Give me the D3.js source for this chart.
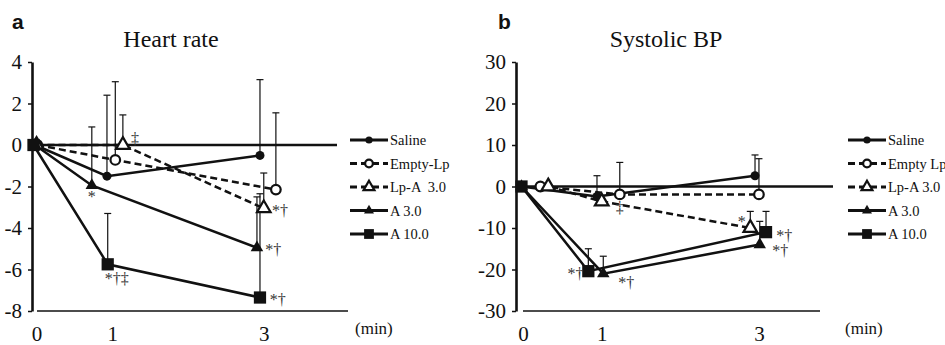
<!DOCTYPE html>
<html>
<head>
<meta charset="utf-8">
<script src="https://cdn.jsdelivr.net/npm/d3@7"></script>
<style>
  body { margin: 0; background: #fff; }
  svg text { font-family: "Liberation Serif", "Times New Roman", serif; fill: #111; white-space: pre; }
</style>
</head>
<body>
<svg id="svg0" width="945" height="345"></svg>
<script>
// legend names, one list per panel
var namesA = ["Saline", "Empty-Lp", "Lp-A  3.0", "A 3.0", "A 10.0"];
var namesB = ["Saline", "Empty Lp", "Lp-A 3.0", "A 3.0", "A 10.0"];

var xTicks = [0, 1, 3];
var hrTicks = [4, 2, 0, -2, -4, -6, -8];
var bpTicks = [30, 20, 10, 0, -10, -20, -30];

// [minutes, mean change, top of SD bar]
var hrSaline = [[0, 0, null], [0.95, -1.5, 2.4], [2.97, -0.5, 3.15]];
var hrEmpty  = [[0.03, 0, null], [1.06, -0.72, 3.05], [3.18, -2.15, 1.55]];
var hrLpA    = [[0.02, 0, null], [1.16, 0, 1.45], [3.02, -3.05, -1.35]];
var hrA3     = [[0, 0, null], [0.75, -1.95, 0.87], [2.93, -4.95, -2.5]];
var hrA10    = [[-0.02, 0, null], [0.96, -5.75, -3.3], [2.97, -7.35, -2.35]];

var bpSaline = [[0, 0, null], [0.96, -2.4, 2.6], [2.97, 2.6, 7.6]];
var bpEmpty  = [[0.24, 0, null], [1.25, -1.9, 5.8], [3.02, -1.9, 6.7]];
var bpLpA    = [[0.34, 0, null], [1.02, -3.6, null], [2.91, -10, -6]];
var bpA3     = [[0, 0, null], [1.04, -21, -16.8], [3.03, -14, -8.4]];
var bpA10    = [[0, 0, null], [0.85, -20.4, -15], [3.11, -11, -6]];

// significance marks: [minutes, value, text, anchor]
var hrMarks = [
  [0.75, -2.5, "*", "middle"],
  [1.32, 0.3, "‡", "middle"],
  [1.08, -6.45, "*†‡", "middle"],
  [3.13, -3.2, "*†", "start"],
  [3.04, -5.05, "*†", "start"],
  [3.10, -7.45, "*†", "start"]
];
var bpMarks = [
  [1.25, -5.2, "‡", "middle"],
  [2.80, -8.5, "*", "middle"],
  [3.24, -12, "*†", "start"],
  [3.19, -15.6, "*†", "start"],
  [0.79, -21.2, "*†", "end"],
  [1.23, -23.2, "*†", "start"]
];

var markerKind = ["dot", "ring", "tri", "ftri", "square"];
var dashedLine = [false, true, true, false, false];

var svg = d3.select('#svg0');

function marker(g, kind, x, y, small) {
    var k = small ? 0.8 : 1;
    if (kind == "dot") {
        g.append("circle").attr("cx", x).attr("cy", y).attr("r", 4.5 * k).attr("fill", "#111");
    } else if (kind == "ring") {
        g.append("circle").attr("cx", x).attr("cy", y).attr("r", 4.8 * k)
            .attr("fill", "#fff").attr("stroke", "#111").attr("stroke-width", 2.2);
    } else if (kind == "tri") {
        g.append("path").attr("d", d3.symbol(d3.symbolTriangle, 80 * k * k)())
            .attr("transform", "translate(" + x + "," + y + ")")
            .attr("fill", "#fff").attr("stroke", "#111").attr("stroke-width", 2.2);
    } else if (kind == "ftri") {
        g.append("path").attr("d", d3.symbol(d3.symbolTriangle, 68 * k * k)())
            .attr("transform", "translate(" + x + "," + y + ")")
            .attr("fill", "#111");
    } else {
        g.append("path").attr("d", d3.symbol(d3.symbolSquare, 150 * k * k)())
            .attr("transform", "translate(" + x + "," + y + ")")
            .attr("fill", "#111");
    }
}

function drawPanel(p) {
    var g = svg.append('g');
    var x = d3.scaleLinear().domain([0, 4]).range(p.xRange);
    var y = d3.scaleLinear().domain(p.yDomain).range([311, 62]);

    // letter and title
    g.append("text").attr("x", p.letterX).attr("y", 29)
        .style("font-family", "'Liberation Sans', Arial, sans-serif")
        .style("font-weight", "bold").style("font-size", "21px").text(p.letter);
    g.append("text").attr("x", p.titleX).attr("y", 47).attr("text-anchor", "middle")
        .style("font-size", "24px").text(p.title);

    // y axis
    var yAxis = g.append("g")
        .attr("transform", "translate(" + p.axisX + ",0)")
        .call(d3.axisLeft(y).tickValues(p.yTicks).tickSize(4).tickSizeOuter(0).tickPadding(6)
            .tickFormat(function (d) { return String(d); }));
    yAxis.select(".domain").attr("stroke", "#111").attr("stroke-width", 2.6);
    yAxis.selectAll(".tick line").attr("stroke", "#111").attr("stroke-width", 1.5);
    yAxis.selectAll(".tick text").style("font-size", "21px")
        .style("font-family", "'Liberation Serif', serif").attr("fill", "#111");

    // zero line and bottom line
    g.append("line").attr("x1", p.axisX).attr("x2", p.zeroEnd)
        .attr("y1", y(0)).attr("y2", y(0)).attr("stroke", "#111").attr("stroke-width", 2.5);
    g.append("line").attr("x1", p.bottomStart).attr("x2", p.bottomEnd)
        .attr("y1", y(p.yDomain[0])).attr("y2", y(p.yDomain[0]))
        .attr("stroke", "#111").attr("stroke-width", 1.6);

    // x tick labels
    g.selectAll(".xl").data(xTicks).enter().append("text")
        .attr("x", function (d) { return x(d) + 2; }).attr("y", 341)
        .attr("text-anchor", "middle").style("font-size", "21px").text(function (d) { return d; });
    g.append("text").attr("x", p.minX).attr("y", 334).style("font-size", "17px").text("(min)");

    var line = d3.line().x(function (d) { return x(d[0]); }).y(function (d) { return y(d[1]); });

    p.series.forEach(function (s, i) {
        g.append("path").datum(s).attr("d", line).attr("fill", "none")
            .attr("stroke", "#111").attr("stroke-width", 2.5)
            .attr("stroke-dasharray", dashedLine[i] ? "7,4" : null);
    });

    // SD bars
    p.series.forEach(function (s) {
        s.filter(function (d) { return d[2] !== null; }).forEach(function (d) {
            var xx = x(d[0]);
            g.append("line").attr("x1", xx).attr("x2", xx).attr("y1", y(d[1])).attr("y2", y(d[2]))
                .attr("stroke", "#111").attr("stroke-width", 1.2);
            g.append("line").attr("x1", xx - 3.5).attr("x2", xx + 3.5).attr("y1", y(d[2])).attr("y2", y(d[2]))
                .attr("stroke", "#111").attr("stroke-width", 1.2);
        });
    });

    p.series.forEach(function (s, i) {
        s.forEach(function (d) { marker(g, markerKind[i], x(d[0]), y(d[1]), false); });
    });

    g.selectAll(".mk").data(p.marks).enter().append("text")
        .attr("x", function (d) { return x(d[0]); })
        .attr("y", function (d) { return y(d[1]) + 5; })
        .attr("text-anchor", function (d) { return d[3]; })
        .style("font-size", "16px").style("fill", "#333")
        .text(function (d) { return d[2]; });

    // legend
    var ly = d3.scalePoint().domain(p.names).range([140, 234]);
    p.names.forEach(function (n, i) {
        var lg = g.append("g");
        lg.append("line").attr("x1", p.legX).attr("x2", p.legX + 38)
            .attr("y1", ly(n)).attr("y2", ly(n)).attr("stroke", "#111").attr("stroke-width", 2.8)
            .attr("stroke-dasharray", dashedLine[i] ? "7,4" : null);
        marker(lg, markerKind[i], p.legX + 19, ly(n), true);
        lg.append("text").attr("x", p.legX + 40).attr("y", ly(n) + 5)
            .style("font-size", "14.5px").text(n);
    });
}

drawPanel({
    letter: "a", letterX: 12, title: "Heart rate", titleX: 171,
    xRange: [35, 338], yDomain: [-8, 4], yTicks: hrTicks, axisX: 32,
    zeroEnd: 337, bottomStart: 37, bottomEnd: 348, minX: 355,
    series: [hrSaline, hrEmpty, hrLpA, hrA3, hrA10], marks: hrMarks,
    names: namesA, legX: 350
});

drawPanel({
    letter: "b", letterX: 498, title: "Systolic BP", titleX: 666,
    xRange: [521.5, 836], yDomain: [-30, 30], yTicks: bpTicks, axisX: 516,
    zeroEnd: 833, bottomStart: 523, bottomEnd: 820, minX: 845,
    series: [bpSaline, bpEmpty, bpLpA, bpA3, bpA10], marks: bpMarks,
    names: namesB, legX: 848
});
</script>
</body>
</html>
